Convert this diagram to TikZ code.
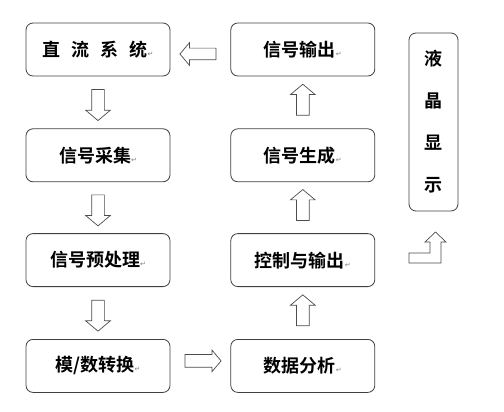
\documentclass[tikz,border=0pt]{standalone}
\usepackage{fontspec}
\newfontfamily\cjk{Noto Sans CJK SC}[BoldFont={Noto Sans CJK SC Bold}]
\newfontfamily\symf{DejaVu Sans}
\usetikzlibrary{
  shapes.arrows,%
  calc,%
  positioning
}
\tikzset{>=latex}
\tikzset{box/.style={draw=black!75, line width=0.8pt, rounded corners=7pt,
    minimum width=144pt, minimum height=53pt,
    font=\cjk\bfseries\fontsize{18}{22}\selectfont}}
\tikzset{lcdbox/.style={box, minimum width=49pt, minimum height=178pt,
    align=center, font=\cjk\bfseries\fontsize{18}{36}\selectfont}}
\tikzset{blockarrow/.style={single arrow, draw=black!70, fill=white,
    line width=0.7pt, inner sep=6pt, single arrow head extend=6pt,
    single arrow tip angle=100, minimum height=31pt}}
\newcommand{\pmark}{{\symf\mdseries\fontsize{7}{7}\selectfont\color{black!50}↵}}

\begin{document}
\begin{tikzpicture}[x=1pt, y=-1pt]
  \useasboundingbox (0,0) rectangle (504,412);
  % left column
  \node[box] (dc) at (98,49.5) {直\hspace{11pt}流\hspace{11pt}系\hspace{11pt}统\pmark};
  \node[box, below=52pt of dc] (acq) {信号采集\pmark};
  \node[box, below=51pt of acq] (pre) {信号预处理\pmark};
  \node[box, below=52pt of pre] (adc) {模/数转换\pmark};
  % right column
  \node[box, right=60pt of dc] (out) {信号输出\pmark};
  \node[box, right=60pt of acq] (gen) {信号生成\pmark};
  \node[box, right=60pt of pre] (ctrl) {控制与输出\pmark};
  \node[box, right=60pt of adc] (ana) {数据分析\pmark};
  \node[lcdbox] (lcd) at (433.5,122) {液\\[6pt]晶\\[6pt]显\\[6pt]示};
  % block arrows
  \foreach \a/\b in {dc/acq, acq/pre, pre/adc}
    \node[blockarrow, rotate=-90] at ($(\a.south)!0.5!(\b.north)$) {};
  \foreach \a/\b in {ana/ctrl, ctrl/gen, gen/out}
    \node[blockarrow, rotate=90] at ($(\a.north)!0.5!(\b.south)$) {};
  \node[blockarrow, rotate=180, minimum height=36pt, inner sep=5.5pt, single arrow head extend=5.5pt,
    yshift=4.5pt] (back) at ($(out.west)!0.5!(dc.east)$) {};
  \node[blockarrow, minimum height=36pt, inner sep=6pt, single arrow head extend=4.5pt,
    yshift=5pt] (fwd) at ($(adc.east)!0.5!(ana.west)$) {};
  % bent arrow to the display
  \draw[draw=black!70, fill=white, line width=0.7pt]
    (409,263) -- (441,263) -- (441,242) -- (446,242) -- (435.5,232)
    -- (425,242) -- (430,242) -- (430,253) -- (409,253) -- cycle;
\end{tikzpicture}
\end{document}
